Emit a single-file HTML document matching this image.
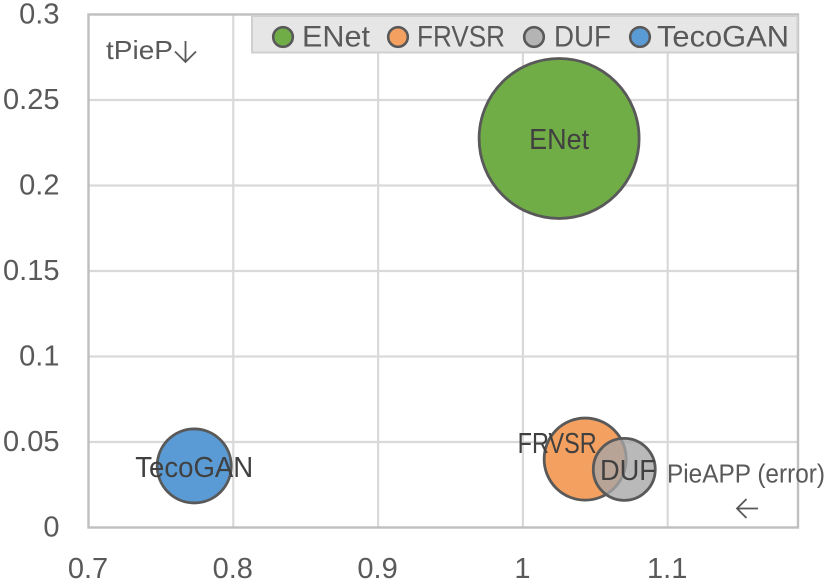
<!DOCTYPE html>
<html lang="en">
<head>
<meta charset="utf-8">
<title>PieAPP vs tPieP bubble chart</title>
<style>
html,body{margin:0;padding:0;background:#fff;}
body{width:829px;height:583px;overflow:hidden;}
svg{display:block;font-family:"Liberation Sans",sans-serif;}
</style>
</head>
<body>
<svg id="chart" width="829" height="583" viewBox="0 0 829 583" xmlns="http://www.w3.org/2000/svg"></svg>
<script>
var seriesNames = ['ENet', 'FRVSR', 'DUF', 'TecoGAN'];
var pieAppValues = [1.025, 1.043, 1.07, 0.773];
var tPiePValues = [0.2275, 0.040, 0.034, 0.036];
var bubbleSizes = [1.0, 0.263, 0.15, 0.214];
var seriesColors = ['#70ad47', '#f4a060', '#a5a5a5', '#5b9bd5'];
var seriesOpacity = [1, 1, 0.78, 1];
var xTicks = [0.7, 0.8, 0.9, 1, 1.1];
var yTicks = [0, 0.05, 0.1, 0.15, 0.2, 0.25, 0.3];
var xTickLabels = ['0.7', '0.8', '0.9', '1', '1.1'];
var yTickLabels = ['0', '0.05', '0.1', '0.15', '0.2', '0.25', '0.3'];

var NS = 'http://www.w3.org/2000/svg';
var svg = document.getElementById('chart');
var TEXT = '#595959';
var DARK = '#404040';

function xScale(v) { return 88.5 + (v - 0.7) * 1448; }
function yScale(v) { return 527.5 - v * 1710; }
function rScale(s) { return 80 * Math.sqrt(s); }

function make(tag, attrs, text) {
  var el = document.createElementNS(NS, tag);
  for (var k in attrs) { el.setAttribute(k, attrs[k]); }
  if (text !== undefined) { el.textContent = text; }
  svg.appendChild(el);
  return el;
}

var plotRight = 798;
var i, el;

for (i = 1; i < xTicks.length; i++) {
  el = make('line', {x1: xScale(xTicks[i]), x2: xScale(xTicks[i]), y1: 14.5, y2: 527.5, stroke: '#d9d9d9', 'stroke-width': 2.2});
  
  
}
for (i = 1; i < yTicks.length - 1; i++) {
  el = make('line', {x1: 88.5, x2: plotRight, y1: yScale(yTicks[i]), y2: yScale(yTicks[i]), stroke: '#d9d9d9', 'stroke-width': 2.2});
  
  
}

el = make('rect', {x: 88.5, y: 14.5, width: plotRight - 88.5, height: 513, fill: 'none', stroke: '#bfbfbf', 'stroke-width': 2.4});



for (i = 0; i < xTicks.length; i++) {
  el = make('text', {x: xScale(xTicks[i]) - 0.5, y: 578, 'text-anchor': 'middle', 'font-size': 29, fill: TEXT}, xTickLabels[i]);
  
  
}
for (i = 0; i < yTicks.length; i++) {
  el = make('text', {x: 59.5, y: yScale(yTicks[i]) + 9, 'text-anchor': 'end', 'font-size': 29, fill: TEXT}, yTickLabels[i]);
  
  
}

for (i = 0; i < seriesNames.length; i++) {
  el = make('circle', {
    cx: xScale(pieAppValues[i]),
    cy: yScale(tPiePValues[i]),
    r: rScale(bubbleSizes[i]),
    fill: seriesColors[i],
    'fill-opacity': seriesOpacity[i],
    stroke: '#595959',
    'stroke-width': 2.8
  });
  
  
}

var labelOffsetX = [0, -28, 3.7, 0];
var labelOffsetY = [10.5, -6, 10.6, 11];
var labelWidths = [60, 79, 56, 118];
for (i = 0; i < seriesNames.length; i++) {
  el = make('text', {
    x: xScale(pieAppValues[i]) + labelOffsetX[i],
    y: yScale(tPiePValues[i]) + labelOffsetY[i],
    'text-anchor': 'middle',
    'font-size': 29,
    fill: DARK,
    textLength: labelWidths[i],
    lengthAdjust: 'spacingAndGlyphs'
  }, seriesNames[i]);
  
  
}

el = make('rect', {x: 252, y: 16, width: 545.5, height: 36.5, fill: '#e6e6e6', stroke: '#d0d0d0', 'stroke-width': 2});



var legendMarkerX = [283, 398, 534, 640];
var legendTextX = [302, 417, 554, 657];
var legendTextW = [68, 88, 57, 132];
for (i = 0; i < seriesNames.length; i++) {
  el = make('circle', {cx: legendMarkerX[i], cy: 37, r: 9.8, fill: seriesColors[i], 'fill-opacity': seriesOpacity[i], stroke: '#595959', 'stroke-width': 2.6});
  
  
  el = make('text', {x: legendTextX[i], y: 46.7, 'font-size': 30, fill: TEXT, textLength: legendTextW[i], lengthAdjust: 'spacingAndGlyphs'}, seriesNames[i]);
  
  
}

el = make('text', {x: 106, y: 59, 'font-size': 26, fill: TEXT, textLength: 67, lengthAdjust: 'spacingAndGlyphs'}, 'tPieP');


el = make('path', {d: 'M185.5 41 V62 M175 51.5 L185.5 62 L196 51.5', fill: 'none', stroke: TEXT, 'stroke-width': 1.8});



el = make('text', {x: 667, y: 482.7, 'font-size': 25.5, fill: TEXT, textLength: 158, lengthAdjust: 'spacingAndGlyphs'}, 'PieAPP (error)');


el = make('path', {d: 'M758 508.5 H737 M746.5 499 L737 508.5 L746.5 518', fill: 'none', stroke: TEXT, 'stroke-width': 1.8});


</script>
</body>
</html>
